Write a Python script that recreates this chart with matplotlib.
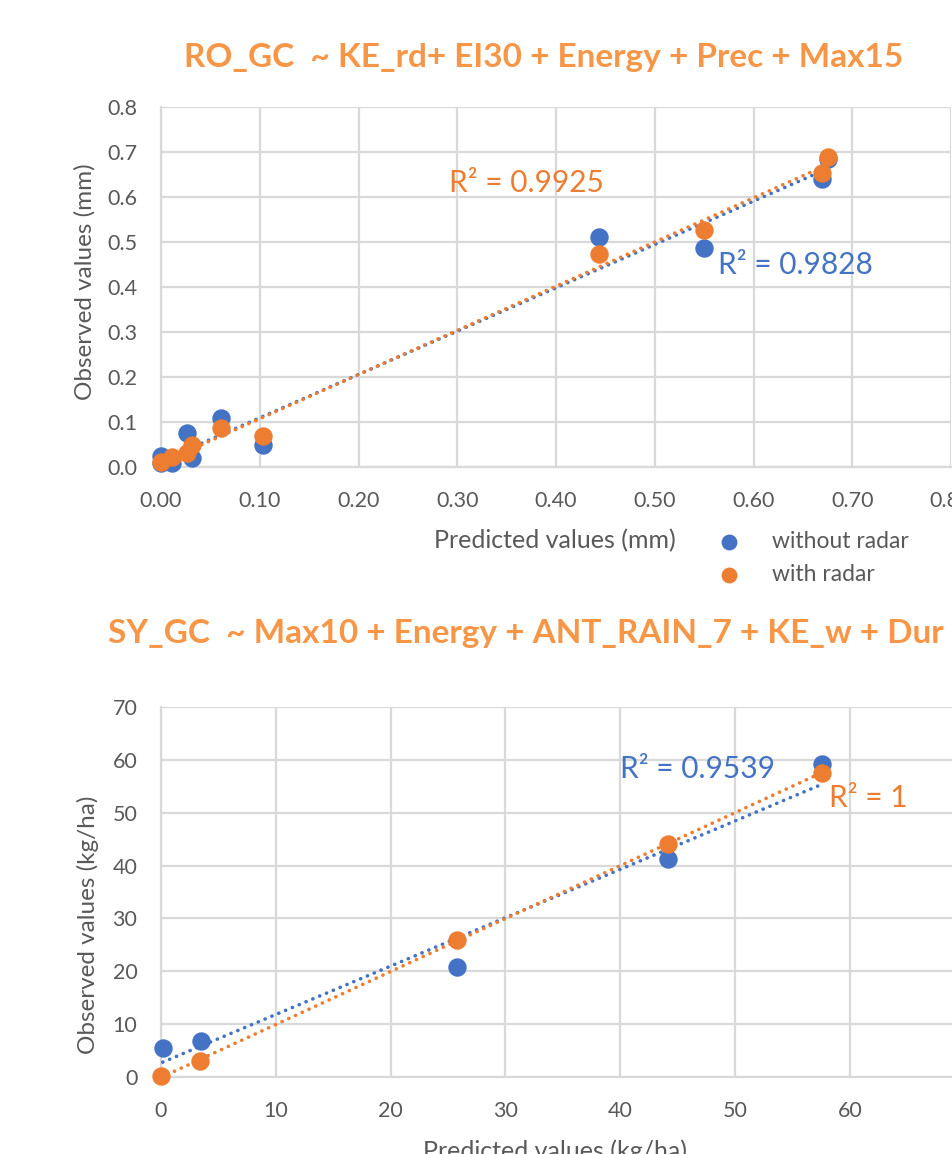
import numpy as np
import matplotlib
matplotlib.use('Agg')
from matplotlib import pyplot as plt

plt.rcParams['font.family'] = ['Lato', 'DejaVu Sans']

# Top chart: runoff (mm)
ro_x_without = [0.0, 0.0, 0.011, 0.026, 0.031, 0.061, 0.103, 0.444, 0.55, 0.669, 0.675]
ro_y_without = [0.025, 0.008, 0.009, 0.075, 0.02, 0.11, 0.048, 0.511, 0.487, 0.64, 0.685]
ro_x_with = [0.0, 0.011, 0.026, 0.031, 0.061, 0.103, 0.444, 0.55, 0.669, 0.675]
ro_y_with = [0.012, 0.023, 0.031, 0.05, 0.087, 0.07, 0.473, 0.527, 0.653, 0.688]
ro_r2_without = "R² = 0.9828"
ro_r2_with = "R² = 0.9925"
ro_ticks_x = [0.0, 0.1, 0.2, 0.3, 0.4, 0.5, 0.6, 0.7, 0.8]
ro_ticks_y = [0.0, 0.1, 0.2, 0.3, 0.4, 0.5, 0.6, 0.7, 0.8]

# Bottom chart: sediment yield (kg/ha)
sy_x_without = [0.15, 3.5, 25.8, 44.2, 57.6]
sy_y_without = [5.4, 6.8, 20.8, 41.3, 59.2]
sy_x_with = [0.0, 3.4, 25.8, 44.2, 57.6]
sy_y_with = [0.1, 3.0, 26.0, 44.1, 57.6]
sy_r2_without = "R² = 0.9539"
sy_r2_with = "R² = 1"
sy_ticks_x = [0, 10, 20, 30, 40, 50, 60, 70]
sy_ticks_y = [0, 10, 20, 30, 40, 50, 60, 70]

blue = '#4472C4'
orange = '#ED7D31'
title_orange = '#F79646'
grey_txt = '#595959'
grid_col = '#D9D9D9'

W, H = 952, 1154
fig = plt.figure(figsize=(W / 100, H / 100), dpi=100)


def fy(py):
    return 1 - py / H


def make_ax(left_px, right_px, top_px, bottom_px):
    ax = fig.add_axes([left_px / W, fy(bottom_px), (right_px - left_px) / W,
                       (bottom_px - top_px) / H])
    for s in ax.spines.values():
        s.set_color(grid_col)
        s.set_linewidth(1.6)
    ax.spines['right'].set_visible(False)
    ax.spines['top'].set_visible(False)
    ax.grid(True, color=grid_col, linewidth=1.6)
    ax.set_axisbelow(True)
    ax.tick_params(length=0, labelsize=15.5, colors=grey_txt)
    ax.tick_params(axis='x', pad=17)
    ax.tick_params(axis='y', pad=17)
    return ax


def trend(ax, x, y, color):
    k, b = np.polyfit(x, y, 1)
    xs = np.array([min(x), max(x)])
    ax.plot(xs, k * xs + b, color=color, linewidth=2.6,
            linestyle=(0, (0.05, 2.0)), dash_capstyle='round', zorder=3)


# ---- top chart
ax1 = make_ax(161, 951, 107, 467)
ax1.set_xlim(0, 0.8)
ax1.set_ylim(0, 0.8)
ax1.set_xticks(ro_ticks_x)
ax1.set_yticks(ro_ticks_y)
ax1.set_xticklabels([f"{v:.2f}" for v in ro_ticks_x])
ax1.set_yticklabels([f"{v:.1f}" for v in ro_ticks_y])
ax1.scatter(ro_x_without, ro_y_without, s=150, color=blue, zorder=4, clip_on=False,
            label='without radar')
ax1.scatter(ro_x_with, ro_y_with, s=150, color=orange, zorder=5, clip_on=False,
            label='with radar')
trend(ax1, ro_x_without, ro_y_without, blue)
trend(ax1, ro_x_with, ro_y_with, orange)
ax1.text(0.292, 0.631, ro_r2_with, color=orange, fontsize=21.5, va='center')
ax1.text(0.564, 0.449, ro_r2_without, color=blue, fontsize=21.5, va='center')

fig.text(544 / W, fy(58), "RO_GC  ~ KE_rd+ EI30 + Energy + Prec + Max15",
         color=title_orange, fontsize=24, fontweight='bold', ha='center', va='center')
fig.text(555 / W, fy(541), "Predicted values (mm)", color=grey_txt, fontsize=18,
         ha='center', va='center')
fig.text(85 / W, fy(282), "Observed values (mm)", color=grey_txt, fontsize=17.5,
         ha='center', va='center', rotation=90)
fig.legend(*ax1.get_legend_handles_labels(), loc='center left',
           bbox_to_anchor=(706 / W, fy(558)), frameon=False, fontsize=16.5,
           labelcolor=grey_txt, handletextpad=0.9, markerscale=0.85,
           labelspacing=0.5, borderaxespad=0, borderpad=0)

# ---- bottom chart
ax2 = make_ax(161, 964.6, 707, 1077)
ax2.set_xlim(0, 70)
ax2.set_ylim(0, 70)
ax2.set_xticks(sy_ticks_x)
ax2.set_yticks(sy_ticks_y)
ax2.scatter(sy_x_without, sy_y_without, s=150, color=blue, zorder=4, clip_on=False)
ax2.scatter(sy_x_with, sy_y_with, s=150, color=orange, zorder=5, clip_on=False)
trend(ax2, sy_x_without, sy_y_without, blue)
trend(ax2, sy_x_with, sy_y_with, orange)
ax2.text(40.0, 58.3, sy_r2_without, color=blue, fontsize=21.5, va='center')
ax2.text(58.2, 52.8, sy_r2_with, color=orange, fontsize=21.5, va='center')

fig.text(526 / W, fy(633), "SY_GC  ~ Max10 + Energy + ANT_RAIN_7 + KE_w + Dur",
         color=title_orange, fontsize=24, fontweight='bold', ha='center', va='center')
fig.text(555 / W, fy(1151), "Predicted values (kg/ha)", color=grey_txt, fontsize=18,
         ha='center', va='center')
fig.text(88 / W, fy(925), "Observed values (kg/ha)", color=grey_txt, fontsize=17.5,
         ha='center', va='center', rotation=90)

fig.savefig('out.png', dpi=100)
